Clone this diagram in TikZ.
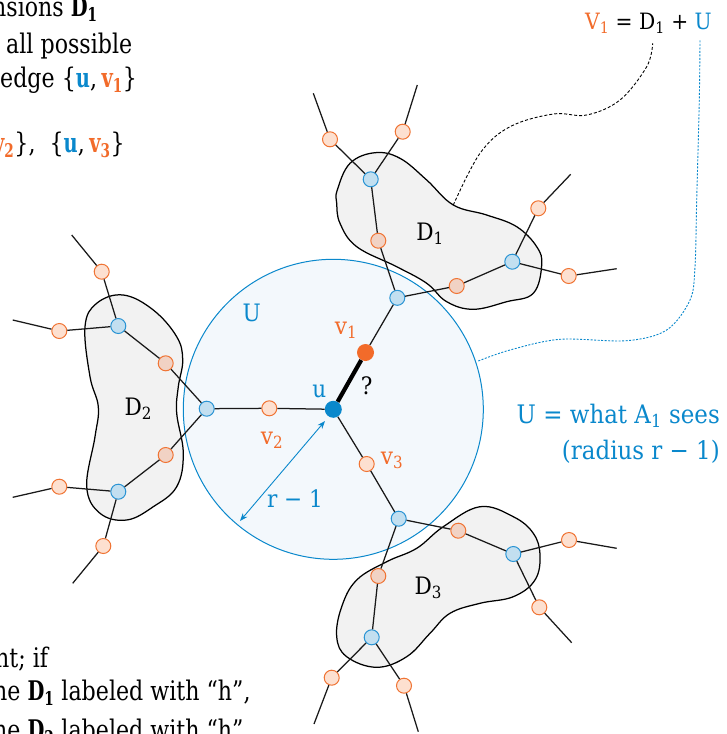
\documentclass[tikz,border=0pt]{standalone}
\usepackage{fontspec}
\setmainfont{DejaVu Serif}[FakeStretch=0.82, BoldFeatures={FakeStretch=0.72}]
\newfontfamily\labelfont{DejaVu Serif}[FakeStretch=0.9]
\usetikzlibrary{arrows.meta}
\definecolor{ublue}{HTML}{0A88CC}
\definecolor{uorange}{HTML}{F26B2A}
\definecolor{nodeblue}{HTML}{2A94D4}
\definecolor{nodebluefill}{HTML}{C2DFF0}
\definecolor{nodeorange}{HTML}{F07434}
\definecolor{nodeorangefill}{HTML}{FDE0D0}
\definecolor{nodeorangefillg}{HTML}{F1D2C4}
\definecolor{blobgrey}{HTML}{F2F2F2}
\definecolor{circfill}{HTML}{E6F1FA}
\pgfdeclarelayer{background}
\pgfsetlayers{background,main}
\begin{document}
\begin{tikzpicture}[x=1pt,y=-1pt,
  link/.style={line width=1.25pt, draw=black!90},
  bnode/.style={circle, draw=nodeblue, fill=nodebluefill, line width=1pt, minimum size=15pt, inner sep=0pt},
  onode/.style={circle, draw=nodeorange, fill=nodeorangefill, line width=1pt, minimum size=15pt, inner sep=0pt},
  onodeg/.style={onode, fill=nodeorangefillg},
  blob/.style={draw=black, line width=1.25pt, fill=blobgrey},
  lbl/.style={font=\labelfont\fontsize{24}{28}\selectfont, inner sep=0pt},
  txt/.style={font=\fontsize{27}{34}\selectfont, inner sep=0pt, anchor=base west},
  btxt/.style={font=\labelfont\fontsize{25.5}{30}\selectfont, inner sep=0pt, text=ublue, anchor=base east},
]
\useasboundingbox (0,0) rectangle (726,734);
\clip (0,0) rectangle (726,734);

% ---------- background: blobs and circle U ----------
\begin{pgfonlayer}{background}
\fill[white] (0,0) rectangle (726,734);
\path[blob] plot[smooth cycle, tension=0.65] coordinates {
  (337.3,190) (350,163.3) (375,152.7) (400,158.3) (426.7,180) (453.3,205)
  (486.7,215) (516.7,226.7) (536.7,246.7) (541.7,265) (533.3,293.3)
  (506.7,301.7) (473.3,309.3) (446.7,301.7) (426.7,283.3) (396.7,266.7)
  (356.7,246.7) (340,223.3) (336.7,203.3)};
\path[blob] plot[smooth cycle, tension=0.65] coordinates {
  (123.3,295) (153.3,310) (176.7,336.7) (182.7,360) (178.3,386.7)
  (176.7,413.3) (183.3,453.3) (176.7,486.7) (153.3,506.7) (126.7,520)
  (100,513.3) (86.7,486.7) (95,436.7) (98.3,406.7) (90,376.7) (85,326.7)
  (96.7,303.3)};
\path[blob] plot[smooth cycle, tension=0.65] coordinates {
  (480,506.7) (513.3,516.7) (533.3,533.3) (540,555) (535,580) (513.3,596.7)
  (480,603.3) (450,613.3) (430,633.3) (406.7,656.7) (376.7,667.3)
  (346.7,656.7) (336.7,636.7) (341.7,606.7) (356.7,580) (386.7,561.7)
  (416.7,548.3) (443.3,526.7)};
\path[draw=ublue, line width=1pt, fill=circfill, fill opacity=0.45] (333.3,409.3) circle[radius=150];
\end{pgfonlayer}

% ---------- centre ----------
\node[circle, fill=ublue, minimum size=17pt, inner sep=0pt] (u) at (333.3,409.3) {};
\node[circle, fill=uorange, minimum size=17pt, inner sep=0pt] (v1) at (365.5,352.5) {};
\node[onode] (v2) at (269.3,408.3) {};
\node[onode] (v3) at (366.7,464) {};
\node[bnode] (b1) at (397.3,297.8) {};
\node[bnode] (b2) at (206.7,408.7) {};
\node[bnode] (b3) at (398.7,518.7) {};

% ---------- D1 ----------
\node[bnode] (d1b1) at (370.7,179.3) {};
\node[onode] (d1o1) at (330,139.3) {};
\node[onode] (d1o2) at (402.7,131.7) {};
\node[onodeg] (d1o3) at (378.3,240.7) {};
\node[onodeg] (d1o4) at (456.7,286) {};
\node[bnode] (d1b2) at (512.3,261.7) {};
\node[onode] (d1o5) at (538.3,208.3) {};
\node[onode] (d1o6) at (568.7,276) {};
\coordinate (d1e1) at (313.3,93.3);
\coordinate (d1e2) at (417.3,85);
\coordinate (d1e5) at (570.7,174.3);
\coordinate (d1e6) at (616.7,268.7);

% ---------- D2 ----------
\node[onode] (d2o1) at (101.7,271.7) {};
\node[bnode] (d2b1) at (118.3,326) {};
\node[onode] (d2o2) at (59.3,331) {};
\node[onodeg] (d2o3) at (165.7,363.3) {};
\node[onodeg] (d2o4) at (165.7,455) {};
\node[bnode] (d2b2) at (118.3,491.7) {};
\node[onode] (d2o5) at (59.3,486.7) {};
\node[onode] (d2o6) at (103.3,546) {};
\coordinate (d2e1) at (71.7,235);
\coordinate (d2e2) at (12.7,320);
\coordinate (d2e5) at (12.7,497.3);
\coordinate (d2e6) at (72.7,583.3);

% ---------- D3 ----------
\node[onodeg] (d3o1) at (458.3,530.7) {};
\node[bnode] (d3b1) at (513.3,554) {};
\node[onode] (d3o2) at (569,540) {};
\node[onode] (d3o3) at (539.3,607.3) {};
\node[onodeg] (d3o4) at (378.3,576) {};
\node[bnode] (d3b2) at (371.7,637.3) {};
\node[onode] (d3o5) at (331.7,677.7) {};
\node[onode] (d3o6) at (404,685.7) {};
\coordinate (d3e2) at (616.7,548.3);
\coordinate (d3e3) at (571.7,642.7);
\coordinate (d3e5) at (314,724);
\coordinate (d3e6) at (418.3,731.7);

% ---------- edges ----------
\draw[line width=4.2pt, black] (u) -- (v1);
\draw[link] (v1) -- (b1);
\draw[link] (u) -- (v2) -- (b2);
\draw[link] (u) -- (v3) -- (b3);

\draw[link] (b1) -- (d1o3) -- (d1b1);
\draw[link] (d1b1) -- (d1o1) -- (d1e1);
\draw[link] (d1b1) -- (d1o2) -- (d1e2);
\draw[link] (b1) -- (d1o4) -- (d1b2);
\draw[link] (d1b2) -- (d1o5) -- (d1e5);
\draw[link] (d1b2) -- (d1o6) -- (d1e6);

\draw[link] (b2) -- (d2o3) -- (d2b1);
\draw[link] (d2b1) -- (d2o1) -- (d2e1);
\draw[link] (d2b1) -- (d2o2) -- (d2e2);
\draw[link] (b2) -- (d2o4) -- (d2b2);
\draw[link] (d2b2) -- (d2o5) -- (d2e5);
\draw[link] (d2b2) -- (d2o6) -- (d2e6);

\draw[link] (b3) -- (d3o1) -- (d3b1);
\draw[link] (d3b1) -- (d3o2) -- (d3e2);
\draw[link] (d3b1) -- (d3o3) -- (d3e3);
\draw[link] (b3) -- (d3o4) -- (d3b2);
\draw[link] (d3b2) -- (d3o5) -- (d3e5);
\draw[link] (d3b2) -- (d3o6) -- (d3e6);

% ---------- radius arrow ----------
\coordinate (ra) at (325,421);
\coordinate (rb) at (240,521);
\draw[ublue, line width=0.9pt, {Stealth[length=8pt,width=6pt]}-{Stealth[length=8pt,width=6pt]}] (ra) -- (rb);

% ---------- labels in graph ----------
\node[lbl, text=ublue] (Ulbl) at (251.7,313.3) {U};
\node[lbl, text=uorange] (v1lbl) at (346,330) {v\textsubscript{1}};
\node[lbl, text=ublue] (ulbl) at (319.3,391) {u};
\node[lbl] (qlbl) at (366.7,386) {?};
\node[lbl, text=uorange] (v2lbl) at (272,440) {v\textsubscript{2}};
\node[lbl, text=uorange] (v3lbl) at (392,460) {v\textsubscript{3}};
\node[lbl, text=ublue] (rlbl) at (295,498.3) {r − 1};
\node[lbl] (D1lbl) at (430,234) {D\textsubscript{1}};
\node[lbl] (D2lbl) at (138.3,408.3) {D\textsubscript{2}};
\node[lbl] (D3lbl) at (428.3,588.3) {D\textsubscript{3}};

% ---------- right texts ----------
\node[btxt] (seesA) at (720,423.3) {U = what A\textsubscript{1} sees};
\node[btxt] (seesB) at (720,459) {(radius r − 1)};
\node[lbl, font=\labelfont\fontsize{22.5}{27}\selectfont, anchor=base east] (formula) at (712,29.3) {{\color{uorange}V\textsubscript{1}} = D\textsubscript{1} + {\color{ublue}U}};

% ---------- callout connectors ----------
\coordinate (dstart) at (453.3,205);
\coordinate (dend) at (652.7,43.3);
\draw[dash pattern=on 3pt off 2pt, line width=0.9pt] plot[smooth, tension=0.6] coordinates {
  (dstart) (480,153.3) (510,126.7) (553.3,114) (586.7,115) (620,100) (646.7,66.7) (dend)};
\coordinate (ustart) at (478.3,361);
\coordinate (uend) at (700,40);
\draw[ublue, dash pattern=on 2pt off 1.5pt, line width=0.9pt] plot[smooth, tension=0.55] coordinates {
  (ustart) (510,350) (560,339.3) (626.7,340.7) (666.7,330) (690,300) (695,266.7) (696.7,200) (699.3,100) (uend)};

% ---------- left texts (cropped) ----------
\node[txt] (t1) at (-8,16) {nsions \textbf{D\textsubscript{1}}};
\node[txt] (t2) at (6,53) {all possible};
\node[txt] (t3) at (0,87) {edge \{{\color{ublue}\textbf{u}},\,{\color{uorange}\textbf{v\textsubscript{1}}}\}};
\node[txt] (t4) at (-7,152) {{\color{uorange}\textbf{v\textsubscript{2}}}\},\ \ \{{\color{ublue}\textbf{u}},\,{\color{uorange}\textbf{v\textsubscript{3}}}\}};
\node[txt] (t5) at (-5,667) {nt; if};
\node[txt] (t6) at (-7,700) {he \textbf{D\textsubscript{1}} labeled with “h”,};
\node[txt] (t7) at (-7,739) {he \textbf{D\textsubscript{2}} labeled with “h”,};
\end{tikzpicture}
\end{document}
